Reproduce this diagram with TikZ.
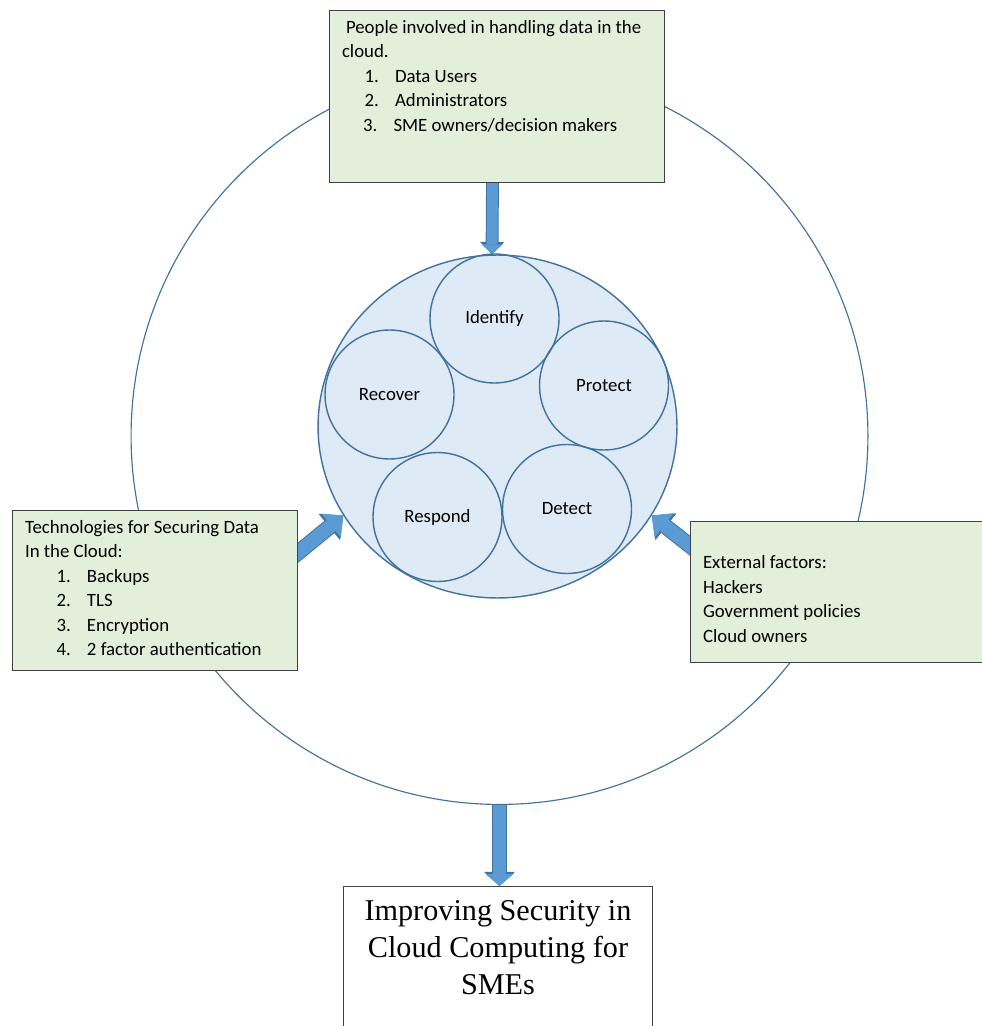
\documentclass[tikz,border=0pt]{standalone}
\usepackage{fontspec}
\setmainfont{Carlito}
\newfontfamily\timesfont{Liberation Serif}
\usetikzlibrary{arrows.meta,shapes.geometric}

\definecolor{boxfill}{HTML}{E2EFDA}
\definecolor{boxline}{HTML}{404040}
\definecolor{ringline}{HTML}{41719C}
\definecolor{corefill}{HTML}{DEEBF7}
\definecolor{arrowfill}{HTML}{5B9BD5}
\definecolor{arrowline}{HTML}{41719C}

\pgfdeclarelayer{back}
\pgfsetlayers{back,main}

\newcommand{\numitem}[3]{\hspace*{#1}\makebox[0.61cm][l]{#2.}#3}
\newcommand{\blockarrow}[5]{%
  \pgfmathsetmacro{\outw}{#1+1.1}%
  \pgfmathsetmacro{\outhw}{#2+1.8}%
  \pgfmathsetmacro{\outhl}{#3+1.3}%
  \draw[draw=arrowline, line width=\outw pt, -{Triangle[length=\outhl pt,width=\outhw pt,line width=0pt]}] #4 -- #5;
  \draw[draw=arrowfill, line width=#1pt, -{Triangle[length=#3pt,width=#2pt,line width=0pt]}] #4 -- #5;}

\tikzset{
  ring/.style={circle, draw=ringline, line width=0.65pt, minimum size=14.74cm, inner sep=0pt},
  core/.style={ellipse, draw=ringline, fill=corefill, line width=0.8pt, minimum width=7.18cm, minimum height=6.86cm, inner sep=0pt},
  phase/.style={circle, draw=ringline, line width=0.8pt, minimum size=2.58cm, inner sep=0pt, font=\fontsize{10.7}{13.9}\selectfont},
  greenbox/.style={draw=boxline, fill=boxfill, line width=0.6pt, anchor=north west, inner xsep=0.25cm, inner ysep=0pt, font=\fontsize{10.7}{13.9}\selectfont},
  goalbox/.style={draw=boxline, fill=white, line width=0.6pt, anchor=north west, inner sep=0pt, font=\timesfont\fontsize{17.2}{21}\selectfont}
}

\begin{document}
\begin{tikzpicture}[x=0.02cm, y=-0.02cm]
\useasboundingbox (0,0) rectangle (981,1026);

% the five functions
\node[core] (core) at (497.5,426.5) {};
\node[phase] (identify) at (494.5,318.5) {Identify};
\node[phase] (protect) at (604,385.5) {Protect};
\node[phase] (detect) at (567,509) {Detect};
\node[phase] (respond) at (437.5,517) {Respond};
\node[phase] (recover) at (389.5,394.5) {Recover};

% boxes
\node[greenbox] (people) at (329,10) {\parbox[t][3.44cm][t]{6.2cm}{%
  \rule{0pt}{13pt}\hspace*{0.08cm}People involved in handling data in the\\
  cloud.\\
  \numitem{0.45cm}{1}{Data Users}\\
  \numitem{0.45cm}{2}{Administrators}\\
  \numitem{0.42cm}{3}{SME owners/decision makers}}};
\node[greenbox] (tech) at (12,510) {\parbox[t][3.2cm][t]{5.2cm}{%
  \rule{0pt}{13pt}Technologies for Securing Data\\
  In the Cloud:\\
  \numitem{0.63cm}{1}{Backups}\\
  \numitem{0.63cm}{2}{TLS}\\
  \numitem{0.63cm}{3}{Encryption}\\
  \numitem{0.63cm}{4}{2 factor authentication}}};
\node[greenbox] (ext) at (690,521) {\parbox[t][2.82cm][t]{5.6cm}{%
  \rule{0pt}{13pt}\\
  External factors:\\
  Hackers\\
  Government policies\\
  Cloud owners}};
\node[goalbox] (goal) at (343,886) {\parbox[t][3.3cm][t]{6.18cm}{\centering
  \rule{0pt}{19.3pt}Improving Security in\\
  Cloud Computing for\\
  SMEs}};

\coordinate (techout) at (283,565);
\coordinate (extin) at (707,559);

\begin{pgfonlayer}{back}
\node[ring] (ring) at (499.5,436) {};
\blockarrow{6.2}{11.9}{5.7}{([xshift=-0.09cm]people.south)}{([xshift=-0.11cm]core.north)}
\blockarrow{7.9}{17.6}{9}{(techout)}{(core.210)}
\blockarrow{7.9}{17.6}{9}{(extin)}{(core.330)}
\blockarrow{7.4}{15.9}{6.8}{(ring.south)}{(ring.south |- goal.north)}
\end{pgfonlayer}
\end{tikzpicture}
\end{document}
